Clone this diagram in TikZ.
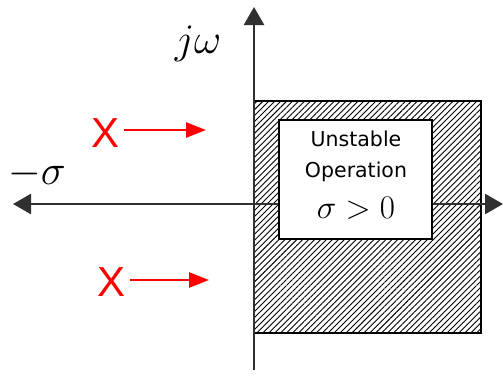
\RequirePackage{fix-cm}
\documentclass[tikz,border=0pt]{standalone}
\usepackage{fontspec}
\newfontfamily\boxfont{DejaVu Sans}
\newfontfamily\markfont{Liberation Sans}
\usetikzlibrary{arrows.meta,patterns.meta}
\definecolor{axisgray}{HTML}{303030}
\definecolor{polered}{HTML}{FF0000}
\tikzset{
  axisline/.style={draw=axisgray,line width=2.6pt,-{Triangle[length=18pt,width=20pt]}},
  hatchbox/.style={draw=black,line width=1.5pt,
    pattern={Lines[angle=45,distance=4.2pt,line width=0.9pt]},pattern color=black},
  whitebox/.style={draw=black,line width=1.4pt,fill=white},
  polemark/.style={text=polered,font=\markfont\fontsize{42}{42}\selectfont,inner sep=0pt},
  movearrow/.style={draw=polered,line width=2.6pt,-{Triangle[length=20pt,width=15pt]}},
  boxtext/.style={font=\boxfont\fontsize{20.5}{32}\selectfont,align=center,inner sep=0pt},
  mathlabel/.style={inner sep=0pt,font=\fontsize{42}{42}\selectfont}
}
\begin{document}
\begin{tikzpicture}[x=1pt,y=-1pt]
\useasboundingbox (0,0) rectangle (503,376);
% hatched unstable region
\path[hatchbox] (254,101) rectangle (481,333);
% axes
\coordinate (origin) at (254,204);
\coordinate (xneg) at (13,204);
\coordinate (xpos) at (503,204);
\coordinate (ybot) at (254,370);
\coordinate (ytop) at (254,7);
\draw[axisline] (origin) -- (xneg);
\draw[axisline] (origin) -- (xpos);
\draw[axisline] (ybot) -- (ytop);
% inner white box
\node[whitebox,minimum width=153pt,minimum height=119pt,inner sep=0pt] (box) at (355.5,179.5) {};
\node[boxtext] (txt1) at (356,139) {Unstable};
\node[boxtext] (txt2) at (356,172) {Operation};
\node[mathlabel,font=\fontsize{33}{33}\selectfont] (cond) at (356,208) {$\sigma>0$};
% axis labels
\node[mathlabel] (jw) at (198,44) {$j\omega$};
\node[mathlabel] (msig) at (37,174) {$-\sigma$};
% poles with arrows
\node[polemark] (p1) at (106,133) {X};
\node[polemark] (p2) at (112,282) {X};
\coordinate (a1) at (206,130);
\coordinate (a2) at (209,280);
\draw[movearrow] (p1.east |- a1) ++(4,0) -- (a1);
\draw[movearrow] (p2.east |- a2) ++(4,0) -- (a2);
\end{tikzpicture}
\end{document}
